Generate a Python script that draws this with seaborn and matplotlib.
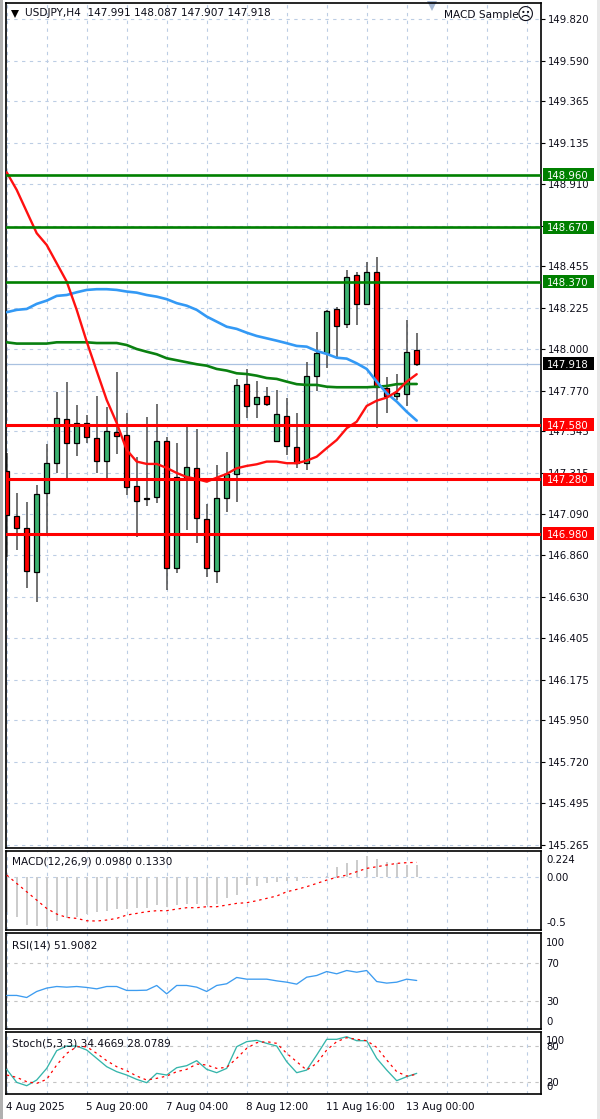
import numpy as np
import pandas as pd
import seaborn as sns
import matplotlib
matplotlib.use('Agg')
import matplotlib.pyplot as plt
from matplotlib.patches import Rectangle
from matplotlib.transforms import ScaledTranslation

# candles, USDJPY H4
high = [147.424, 147.207, 147.157, 147.249, 147.475, 147.764, 147.819, 147.690, 147.635, 147.740,
        147.681, 147.874, 147.648, 147.405, 147.623, 147.696, 147.516, 147.482, 147.575, 147.556,
        147.144, 147.359, 147.433, 147.832, 147.887, 147.823, 147.791, 147.773, 147.731, 147.648,
        147.929, 148.095, 148.215, 148.233, 148.435, 148.426, 148.481, 148.505, 147.847, 147.860,
        148.159, 148.088]
low = [146.854, 146.890, 146.679, 146.605, 146.983, 147.317, 147.286, 147.409, 147.482, 147.317,
       147.286, 147.420, 147.194, 146.961, 147.133, 147.151, 146.670, 146.762, 147.001, 146.927,
       146.740, 146.707, 147.100, 147.155, 147.617, 147.617, 147.685, 147.488, 147.415, 147.341,
       147.332, 147.769, 147.893, 147.957, 148.114, 148.132, 148.242, 147.562, 147.645, 147.718,
       147.685, 147.907]
body_top = [147.328, 147.080, 147.010, 147.198, 147.369, 147.617, 147.612, 147.589, 147.589, 147.507,
            147.549, 147.543, 147.527, 147.245, 147.179, 147.493, 147.493, 147.295, 147.350, 147.341,
            147.060, 147.177, 147.310, 147.801, 147.805, 147.736, 147.742, 147.641, 147.631, 147.460,
            147.852, 147.976, 148.211, 148.220, 148.398, 148.406, 148.424, 148.424, 147.786, 147.758,
            147.984, 147.991]
body_bottom = [147.084, 147.010, 146.776, 146.771, 147.203, 147.369, 147.479, 147.479, 147.516, 147.383,
               147.383, 147.521, 147.236, 147.162, 147.172, 147.185, 146.790, 146.790, 147.288, 147.065,
               146.790, 146.776, 147.176, 147.310, 147.687, 147.694, 147.694, 147.493, 147.466, 147.369,
               147.372, 147.852, 147.976, 148.128, 148.136, 148.246, 148.246, 147.791, 147.742, 147.742,
               147.749, 147.918]
up_bars = [3, 4, 5, 7, 10, 15, 17, 18, 21, 22, 23, 25, 27, 30, 31, 32, 34, 36, 39, 40]

ma_red = [148.974, 148.877, 148.757, 148.638, 148.573, 148.472, 148.371, 148.215, 148.040, 147.878,
          147.718, 147.591, 147.442, 147.378, 147.365, 147.365, 147.343, 147.315, 147.293, 147.282,
          147.267, 147.289, 147.310, 147.341, 147.354, 147.363, 147.378, 147.378, 147.369, 147.369,
          147.383, 147.405, 147.452, 147.497, 147.562, 147.598, 147.685, 147.714, 147.731, 147.764,
          147.819, 147.860]
ma_blue = [148.202, 148.215, 148.220, 148.248, 148.266, 148.292, 148.297, 148.312, 148.325, 148.329,
           148.329, 148.325, 148.316, 148.310, 148.297, 148.288, 148.274, 148.252, 148.238, 148.215,
           148.178, 148.150, 148.122, 148.110, 148.089, 148.071, 148.058, 148.045, 148.031, 148.016,
           148.012, 147.988, 147.972, 147.951, 147.946, 147.920, 147.889, 147.819, 147.755, 147.709,
           147.653, 147.604]
ma_green = [148.036, 148.029, 148.029, 148.029, 148.029, 148.036, 148.036, 148.036, 148.036, 148.032,
            148.032, 148.032, 148.021, 147.999, 147.984, 147.970, 147.948, 147.937, 147.926, 147.915,
            147.907, 147.889, 147.880, 147.865, 147.861, 147.852, 147.839, 147.834, 147.819, 147.805,
            147.801, 147.801, 147.791, 147.788, 147.788, 147.788, 147.788, 147.791, 147.795, 147.805,
            147.806, 147.806]

macd_hist = [-0.386, -0.449, -0.534, -0.545, -0.559, -0.489, -0.460, -0.442, -0.412, -0.394,
             -0.379, -0.361, -0.361, -0.350, -0.342, -0.313, -0.331, -0.313, -0.302, -0.302,
             -0.313, -0.302, -0.239, -0.202, -0.092, -0.103, -0.066, -0.055, -0.044, -0.044,
             -0.018, 0.000, 0.007, 0.110, 0.155, 0.184, 0.228, 0.191, 0.166, 0.147,
             0.129, 0.129]
macd_signal = [0.018, -0.074, -0.166, -0.258, -0.35, -0.412, -0.449, -0.46, -0.486, -0.489,
               -0.478, -0.46, -0.423, -0.405, -0.386, -0.375, -0.375, -0.357, -0.342, -0.342,
               -0.331, -0.331, -0.313, -0.294, -0.287, -0.265, -0.239, -0.213, -0.166, -0.14,
               -0.11, -0.074, -0.037, -0.007, 0.018, 0.055, 0.092, 0.11, 0.129, 0.147,
               0.155, 0.158]
rsi = [35.7, 35.7, 33.5, 39.9, 43.5, 45.2, 44.5, 45.2, 44.2, 42.7, 45.2, 45.2, 41.0, 41.0, 41.3,
       46.3, 37.4, 46.3, 46.3, 44.5, 39.9, 46.3, 48.1, 54.8, 53.0, 53.0, 53.0, 51.2, 49.8, 47.7,
       55.1, 56.9, 61.1, 58.7, 62.2, 60.4, 62.2, 50.5, 48.8, 49.8, 53.0, 51.6]
stoch_k = [40.6, 18.9, 13.3, 22.8, 42.2, 71.7, 79.4, 79.4, 72.8, 58.9, 45.0, 36.7, 31.1, 23.9, 18.3,
           33.9, 31.1, 43.3, 46.7, 55.0, 40.6, 35.0, 42.2, 78.3, 86.7, 88.9, 83.9, 79.4, 53.3, 35.0,
           39.4, 64.4, 90.6, 90.6, 95.0, 88.3, 88.3, 58.9, 39.4, 21.7, 28.3, 33.9]
stoch_d = [31.1, 27.2, 20.0, 17.2, 23.9, 47.8, 67.2, 78.3, 78.3, 67.2, 55.0, 45.0, 38.3, 29.4, 22.8,
           25.6, 29.4, 36.7, 40.6, 49.4, 47.8, 42.2, 43.9, 58.9, 75.6, 85.0, 86.7, 83.9, 67.2, 53.3,
           39.4, 50.6, 72.8, 86.7, 93.3, 90.6, 88.3, 77.2, 56.1, 36.7, 29.4, 32.2]

green_levels = [148.96, 148.67, 148.37]
red_levels = [147.58, 147.28, 146.98]
last_price = 147.918

price_ticks = [149.82, 149.59, 149.365, 149.135, 148.91, 148.68, 148.455, 148.225, 148.0, 147.77, 147.545,
               147.315, 147.09, 146.86, 146.63, 146.405, 146.175, 145.95, 145.72, 145.495, 145.265]
date_ticks = [0, 8, 16, 24, 32, 40]
date_labels = ['4 Aug 2025', '5 Aug 20:00', '7 Aug 04:00', '8 Aug 12:00', '11 Aug 16:00', '13 Aug 00:00']

W, H = 600, 1119
LEFT, RIGHT = 6.3, 540.7
GRID = '#bccde4'
TEXT = '#0c0c18'
FS = 7.3
FS_LABEL = 7.55

sns.set_theme(style='white')
plt.rcParams['font.family'] = ['DejaVu Sans']
plt.rcParams['axes.linewidth'] = 1.2
plt.rcParams['axes.edgecolor'] = 'black'
plt.rcParams['text.color'] = TEXT

df = pd.DataFrame({'bar': np.arange(len(high)), 'high': high, 'low': low, 'top': body_top, 'bottom': body_bottom,
                   'ma_red': ma_red, 'ma_blue': ma_blue, 'ma_green': ma_green, 'hist': macd_hist,
                   'signal': macd_signal, 'rsi': rsi, 'k': stoch_k, 'd': stoch_d})
df['up'] = df['bar'].isin(up_bars)

fig = plt.figure(figsize=(W / 100, H / 100), dpi=100)


def panel(top, bottom):
    ax = fig.add_axes([LEFT / W, 1 - bottom / H, (RIGHT - LEFT) / W, (bottom - top) / H])
    ax.set_xlim(-0.04, 53.4)
    ax.set_xticks(np.arange(0, 54, 4))
    ax.grid(axis='x', color=GRID, lw=0.8, ls=(0, (3, 4)))
    ax.yaxis.tick_right()
    ax.tick_params(axis='x', length=0, labelbottom=False)
    ax.tick_params(axis='y', length=0, pad=4, labelsize=FS, labelcolor=TEXT)
    ax.set_xlabel('')
    ax.set_ylabel('')
    return ax


def nudge_labels(ax, offsets):
    # the terminal keeps the end labels inside the window
    for lab, dy in zip(ax.get_yticklabels(), offsets):
        lab.set_transform(lab.get_transform() + ScaledTranslation(0, dy * 0.72 / 72, fig.dpi_scale_trans))


def price_tag(ax, value, color):
    px = 0.005517
    trans = ax.get_yaxis_transform()
    ax.add_patch(Rectangle((1 + 2.3 / 534.4, value - 6.5 * px), 51 / 534.4, 13 * px, transform=trans, fc=color,
                           ec='none', clip_on=False, zorder=6))
    ax.text(1 + 27.5 / 534.4, value, '%.3f' % value, transform=trans, color='white', fontsize=FS, ha='center',
            va='center_baseline', zorder=7)


# main window
ax = panel(3, 848)
ax.set_ylim(145.246, 149.908)
ax.set_yticks(price_ticks, ['%.3f' % t for t in price_ticks])
ax.tick_params(axis='y', length=3, width=0.8, color='black', pad=2)
ax.grid(axis='y', color=GRID, lw=0.8, ls=(0, (3, 4)))

ax.vlines(df['bar'], df['low'], df['high'], color='#4a4a4a', lw=1.1, zorder=2)
ax.bar(df['bar'], df['top'] - df['bottom'], bottom=df['bottom'], width=0.46,
       color=np.where(df['up'], '#3cb371', '#ff0000'), edgecolor='black', linewidth=0.9, zorder=3)

ax.axhline(last_price, color='#a9c1e0', lw=0.9, zorder=1.5)
sns.lineplot(data=df, x='bar', y='ma_green', ax=ax, color='#0a8010', lw=1.9, legend=False, zorder=4)
sns.lineplot(data=df, x='bar', y='ma_blue', ax=ax, color='#3399f5', lw=1.9, legend=False, zorder=4)
sns.lineplot(data=df, x='bar', y='ma_red', ax=ax, color='#ff1010', lw=1.7, legend=False, zorder=4)
for lvl in green_levels:
    ax.axhline(lvl, color='#008000', lw=1.9, zorder=5)
    price_tag(ax, lvl, '#008000')
for lvl in red_levels:
    ax.axhline(lvl, color='#ff0000', lw=2.2, zorder=5)
    price_tag(ax, lvl, '#ff0000')
price_tag(ax, last_price, '#000000')

ax.text(18.7 / 534.4, 1 - 10 / 845, 'USDJPY,H4  147.991 148.087 147.907 147.918', transform=ax.transAxes,
        fontsize=FS_LABEL, va='center')
ax.plot([8.5 / 534.4], [1 - 10.5 / 845], transform=ax.transAxes, marker='v', ms=5.5, color='black', mew=0)
ax.plot([426 / 534.4], [1 - 3 / 845], transform=ax.transAxes, marker='v', ms=7.5, color='#a6b8d3', mew=0, clip_on=False)
ax.text(512 / 534.4, 1 - 12 / 845, 'MACD Sample', transform=ax.transAxes, fontsize=FS_LABEL, va='center', ha='right')
ax.text(519 / 534.4, 1 - 12 / 845, '\u2639', transform=ax.transAxes, fontsize=12, va='center', ha='center')
ax.set_xlabel('')
ax.set_ylabel('')

# MACD
ax = panel(850.7, 930)
ax.set_ylim(-0.588, 0.287)
sns.barplot(data=df, x='bar', y='hist', ax=ax, native_scale=True, width=0.2, color='#cccccc', saturation=1,
            linewidth=0, zorder=2)
for bar_patch in ax.patches:
    bar_patch.set_snap(True)
sns.lineplot(data=df, x='bar', y='signal', ax=ax, color='#ff0000', lw=0.9, linestyle=(0, (2, 3)), legend=False, zorder=3)
ax.axhline(0, color=GRID, lw=0.8, ls=(0, (3, 4)), zorder=1)
ax.set_xlim(-0.04, 53.4)
ax.set_ylim(-0.588, 0.287)
ax.set_yticks([0.224, 0, -0.5], ['0.224', '0.00', '-0.5'])
nudge_labels(ax, [-3, 0, 0])
ax.text(5.5 / 534.4, 1 - 11.3 / 79.3, 'MACD(12,26,9) 0.0980 0.1330', transform=ax.transAxes, fontsize=FS_LABEL, va='center')
ax.set_xlabel('')
ax.set_ylabel('')

# RSI
ax = panel(933, 1029)
ax.set_ylim(0.29, 102.1)
for lvl in [70, 30]:
    ax.axhline(lvl, color='#c4c4c4', lw=0.8, ls=(0, (3, 4)), zorder=1)
sns.lineplot(data=df, x='bar', y='rsi', ax=ax, color='#3d9cf0', lw=0.95, legend=False, zorder=3)
ax.set_yticks([100, 70, 30, 0], ['100', '70', '30', '0'])
nudge_labels(ax, [-6.7, 0, 0, 8])
ax.text(5.5 / 534.4, 1 - 12 / 96, 'RSI(14) 51.9082', transform=ax.transAxes, fontsize=FS_LABEL, va='center')
ax.set_xlabel('')
ax.set_ylabel('')

# Stochastic
ax = panel(1031.7, 1094)
ax.set_ylim(-0.5, 103.3)
for lvl in [80, 20]:
    ax.axhline(lvl, color='#c4c4c4', lw=0.8, ls=(0, (3, 4)), zorder=1)
sns.lineplot(data=df, x='bar', y='k', ax=ax, color='#35b5ab', lw=0.95, legend=False, zorder=3)
sns.lineplot(data=df, x='bar', y='d', ax=ax, color='#ff0000', lw=0.9, linestyle=(0, (2, 3)), legend=False, zorder=4)
ax.set_yticks([100, 80, 20, 0], ['100', '80', '20', '0'])
nudge_labels(ax, [-6, 0, 0, 7.7])
ax.text(5.5 / 534.4, 1 - 11.3 / 62.3, 'Stoch(5,3,3) 34.4669 28.0789', transform=ax.transAxes, fontsize=FS_LABEL, va='center')
ax.set_xlabel('')
ax.set_ylabel('')
ax.tick_params(axis='x', length=3.5, width=0.8, color='black', labelbottom=False)
ax.set_xticks(date_ticks)
ax.grid(False, axis='x')
for bar in np.arange(0, 54, 4):
    ax.axvline(bar, color=GRID, lw=0.8, ls=(0, (3, 4)), zorder=1)

# time scale, written from the tick to the right
for bar, label in zip(date_ticks, date_labels):
    ax.annotate(label, xy=(bar, 0), xycoords=ax.get_xaxis_transform(), xytext=(-0.3, -9.4),
                textcoords='offset points', fontsize=FS + 0.05, ha='left', va='center', annotation_clip=False)

# window frame
fig.add_artist(Rectangle((0, 0), 2.5 / W, 1, transform=fig.transFigure, fc='#b0b0b0', ec='none'))
fig.add_artist(Rectangle((597 / W, 0), 3 / W, 1, transform=fig.transFigure, fc='#e8e8e8', ec='none'))

fig.savefig('out.png', dpi=100)
